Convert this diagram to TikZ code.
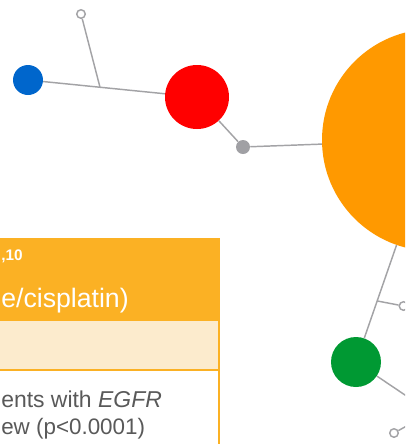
\documentclass[tikz,border=0pt]{standalone}
\usepackage{fontspec}
\setmainfont{Liberation Sans}
\usepackage{xcolor}
\usetikzlibrary{calc}

\definecolor{hdrorange}{RGB}{251,177,36}
\definecolor{rowcream}{RGB}{252,235,205}
\definecolor{txtgrey}{RGB}{89,89,89}
\definecolor{linkgrey}{RGB}{163,163,166}
\definecolor{dotgrey}{RGB}{160,160,164}
\definecolor{hubblue}{RGB}{0,102,204}
\definecolor{hubred}{RGB}{255,0,0}
\definecolor{huborange}{RGB}{255,153,0}
\definecolor{hubgreen}{RGB}{0,153,51}

\tikzset{
  hub/.style={circle, inner sep=0pt, minimum size=#1},
  opendot/.style={circle, draw=linkgrey, fill=white, line width=1.1pt, inner sep=0pt, minimum size=6.4pt},
  link/.style={draw=linkgrey, line width=1.1pt},
  celltext/.style={anchor=base west, inner sep=0pt},
}

\begin{document}
\begin{tikzpicture}[x=0.75pt,y=0.75pt,yscale=-1,xscale=1]
\useasboundingbox (0,0) rectangle (405,444);
\clip (0,0) rectangle (405,444);

%Shape: Table header
\fill[hdrorange] (-10,238) rectangle (220,321);
%Shape: Table sub row
\fill[rowcream] (-10,321) rectangle (218,369);
%Shape: Table borders
\draw[hdrorange, line width=1.5pt] (-10,370) -- (219,370);
\draw[hdrorange, line width=1.5pt] (219,238) -- (219,450);

% Text Node
\node[celltext, text=white, font=\bfseries\fontsize{11.5}{13}\selectfont] (refs) at (1,260) {,10};
% Text Node
\node[celltext, text=white, font=\fontsize{20}{24}\selectfont] (regimen) at (1,307) {e/cisplatin)};
% Text Node
\node[celltext, text=txtgrey, font=\fontsize{17.2}{20}\selectfont] (findA) at (1,407.5) {ents with \textit{EGFR}};
% Text Node
\node[celltext, text=txtgrey, font=\fontsize{16.8}{20}\selectfont] (findB) at (1,434.5) {ew (p<0.0001)};

%Shape: Circles
\node[hub=22.5pt, fill=hubblue] (blue) at (28,80) {};
\node[hub=48pt, fill=hubred] (red) at (197,97) {};
\node[hub=10.5pt, fill=dotgrey] (greydot) at (243,147) {};
\node[hub=166.5pt, fill=huborange] (orange) at (433,140) {};
\node[hub=37.5pt, fill=hubgreen] (green) at (356,362) {};
\node[opendot] (tipA) at (81,14) {};
\node[opendot] (tipB) at (403.5,306) {};
\node[opendot] (tipC) at (394,433) {};

%Straight Lines
\coordinate (jA) at ($(blue)!0.426!(red)$);
\coordinate (jB) at ($(orange)!0.725!(green)$);
\coordinate (outA) at (454,428);
\coordinate (outB) at (430,413);
\draw[link] (blue) -- (red);
\draw[link] (tipA) -- (jA);
\draw[link] (red) -- (greydot);
\draw[link] (greydot) -- (orange);
\draw[link] (orange) -- (green);
\draw[link] (jB) -- (tipB);
\draw[link] (green) -- (outA);
\draw[link] (tipC) -- (outB);

\end{tikzpicture}
\end{document}
